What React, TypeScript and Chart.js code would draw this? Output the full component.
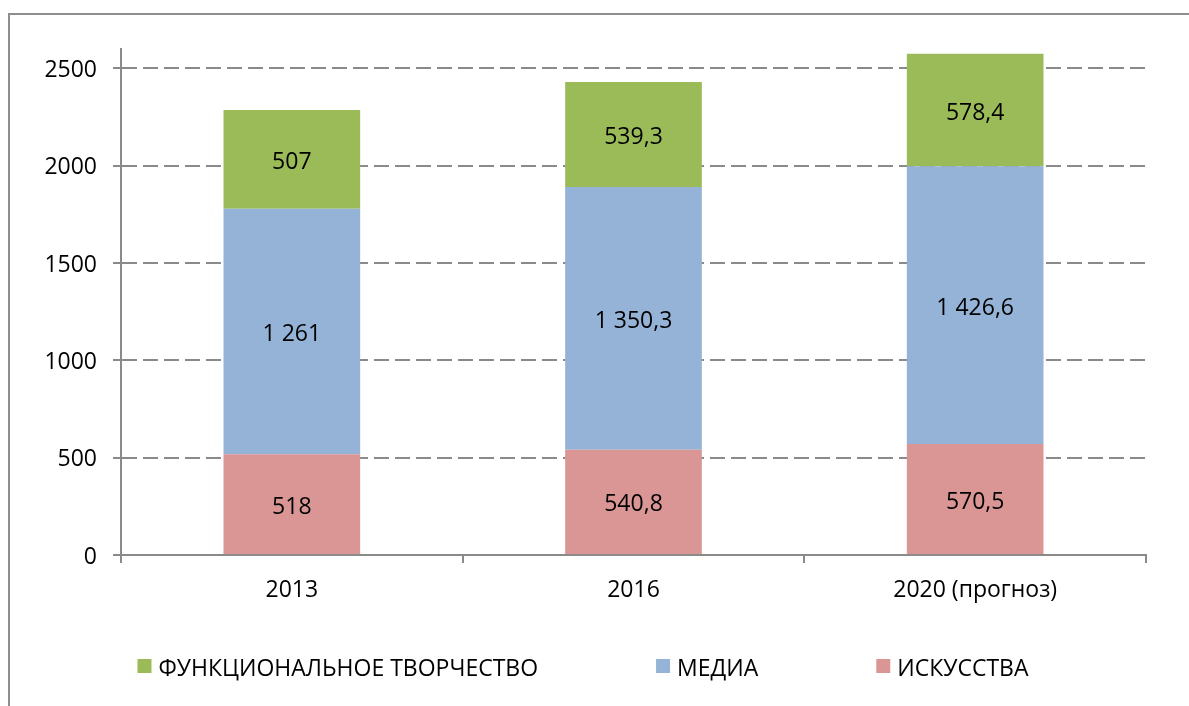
import React, { useEffect, useRef } from 'react';
import { Chart, registerables } from 'chart.js';

Chart.register(...registerables);

const categories = ['2013', '2016', '2020 (прогноз)'];
const seriesNames = ['ИСКУССТВА', 'МЕДИА', 'ФУНКЦИОНАЛЬНОЕ ТВОРЧЕСТВО'];
const artsValues = [518, 540.8, 570.5];
const mediaValues = [1261, 1350.3, 1426.6];
const functionalValues = [507, 539.3, 578.4];
const seriesColors = ['#D99694', '#95B3D7', '#9BBB59'];
const yTickValues = [0, 500, 1000, 1500, 2000, 2500];
const yMin = 0;
const yMax = 2600;

const FONT_FAMILY = '"Open Sans", "Noto Sans", sans-serif';
const FONT_SIZE = 23;
const AXIS_COLOR = '#8a8a8a';

function formatRu(v: number): string {
  const s = String(v);
  const [intPart, decPart] = s.split('.');
  const grouped = intPart.replace(/\B(?=(\d{3})+(?!\d))/g, ' ');
  return decPart ? grouped + ',' + decPart : grouped;
}

const dataLabelPlugin = {
  id: 'segmentLabels',
  afterDatasetsDraw(chart: any) {
    const ctx = chart.ctx;
    ctx.save();
    ctx.font = `${FONT_SIZE}px ${FONT_FAMILY}`;
    ctx.fillStyle = '#000000';
    ctx.textAlign = 'center';
    ctx.textBaseline = 'middle';
    chart.data.datasets.forEach((ds: any, di: number) => {
      const meta = chart.getDatasetMeta(di);
      meta.data.forEach((el: any, i: number) => {
        const yc = (el.y + el.base) / 2 + 3;
        ctx.fillText(formatRu(ds.data[i]), el.x, yc);
      });
    });
    ctx.restore();
  },
};

const legendPlugin = {
  id: 'customLegend',
  afterDraw(chart: any) {
    const ctx = chart.ctx;
    const box = 14;
    const boxGap = 7;
    const itemGap = 118;
    const centerX = 583;
    const centerY = 666;
    ctx.save();
    ctx.font = `${FONT_SIZE}px ${FONT_FAMILY}`;
    ctx.textBaseline = 'middle';
    ctx.textAlign = 'left';
    const items = chart.data.datasets
      .map((ds: any) => ({ text: ds.label, color: ds.backgroundColor }))
      .reverse();
    const widths = items.map((it: any) => box + boxGap + ctx.measureText(it.text).width);
    const total = widths.reduce((a: number, b: number) => a + b, 0) + itemGap * (items.length - 1);
    let x = centerX - total / 2;
    items.forEach((it: any, i: number) => {
      ctx.fillStyle = it.color;
      ctx.fillRect(x, centerY - box / 2, box, box);
      ctx.fillStyle = '#000000';
      ctx.fillText(it.text, x + box + boxGap, centerY + 3);
      x += widths[i] + itemGap;
    });
    ctx.restore();
  },
};

export default function App() {
  const canvasRef = useRef<HTMLCanvasElement | null>(null);

  useEffect(() => {
    const canvas = canvasRef.current;
    if (!canvas) return;
    const chart = new Chart(canvas, {
      type: 'bar',
      data: {
        labels: categories,
        datasets: [
          { label: seriesNames[0], data: artsValues, backgroundColor: seriesColors[0] },
          { label: seriesNames[1], data: mediaValues, backgroundColor: seriesColors[1] },
          { label: seriesNames[2], data: functionalValues, backgroundColor: seriesColors[2] },
        ],
      },
      options: {
        responsive: false,
        devicePixelRatio: 1,
        animation: false,
        events: [],
        layout: { padding: { left: 0, top: 49, right: 43, bottom: 81 } },
        datasets: {
          bar: { categoryPercentage: 0.4, barPercentage: 1 },
        } as any,
        plugins: {
          legend: { display: false },
          tooltip: { enabled: false },
          title: { display: false },
        },
        scales: {
          x: {
            stacked: true,
            offset: true,
            grid: {
              offset: true,
              drawOnChartArea: false,
              drawTicks: true,
              tickLength: 8,
              tickColor: AXIS_COLOR,
              tickWidth: 2,
              color: AXIS_COLOR,
              lineWidth: 2,
            },
            border: { display: true, color: AXIS_COLOR, width: 2 },
            ticks: {
              color: '#000000',
              font: { family: FONT_FAMILY, size: FONT_SIZE },
              padding: 14,
              maxRotation: 0,
              autoSkip: false,
            },
            afterFit(scale: any) {
              scale.height = 70;
            },
          },
          y: {
            stacked: true,
            min: yMin,
            max: yMax,
            grid: {
              color: AXIS_COLOR,
              lineWidth: 2,
              drawTicks: true,
              tickLength: 8,
              tickColor: AXIS_COLOR,
              tickWidth: 2,
            },
            border: { display: true, color: AXIS_COLOR, width: 2, dash: [15, 6] },
            ticks: {
              color: '#000000',
              font: { family: FONT_FAMILY, size: FONT_SIZE },
              padding: 16,
              labelOffset: 2,
              includeBounds: false,
              callback: (v: any) => String(v),
            },
            afterBuildTicks(scale: any) {
              scale.ticks = yTickValues.map((v) => ({ value: v }));
            },
            afterFit(scale: any) {
              scale.width = 121;
            },
          },
        },
      },
      plugins: [dataLabelPlugin, legendPlugin],
    });
    return () => chart.destroy();
  }, []);

  return (
    <div style={{ position: 'absolute', left: 0, top: 0, width: 1189, height: 706, overflow: 'hidden', background: '#ffffff' }}>
      <div
        style={{
          position: 'absolute',
          left: 8,
          top: 13,
          width: 1300,
          height: 800,
          border: '2px solid #8e8e8e',
          boxSizing: 'border-box',
        }}
      />
      <canvas ref={canvasRef} width={1189} height={706} style={{ position: 'absolute', left: 0, top: 0 }} />
    </div>
  );
}
